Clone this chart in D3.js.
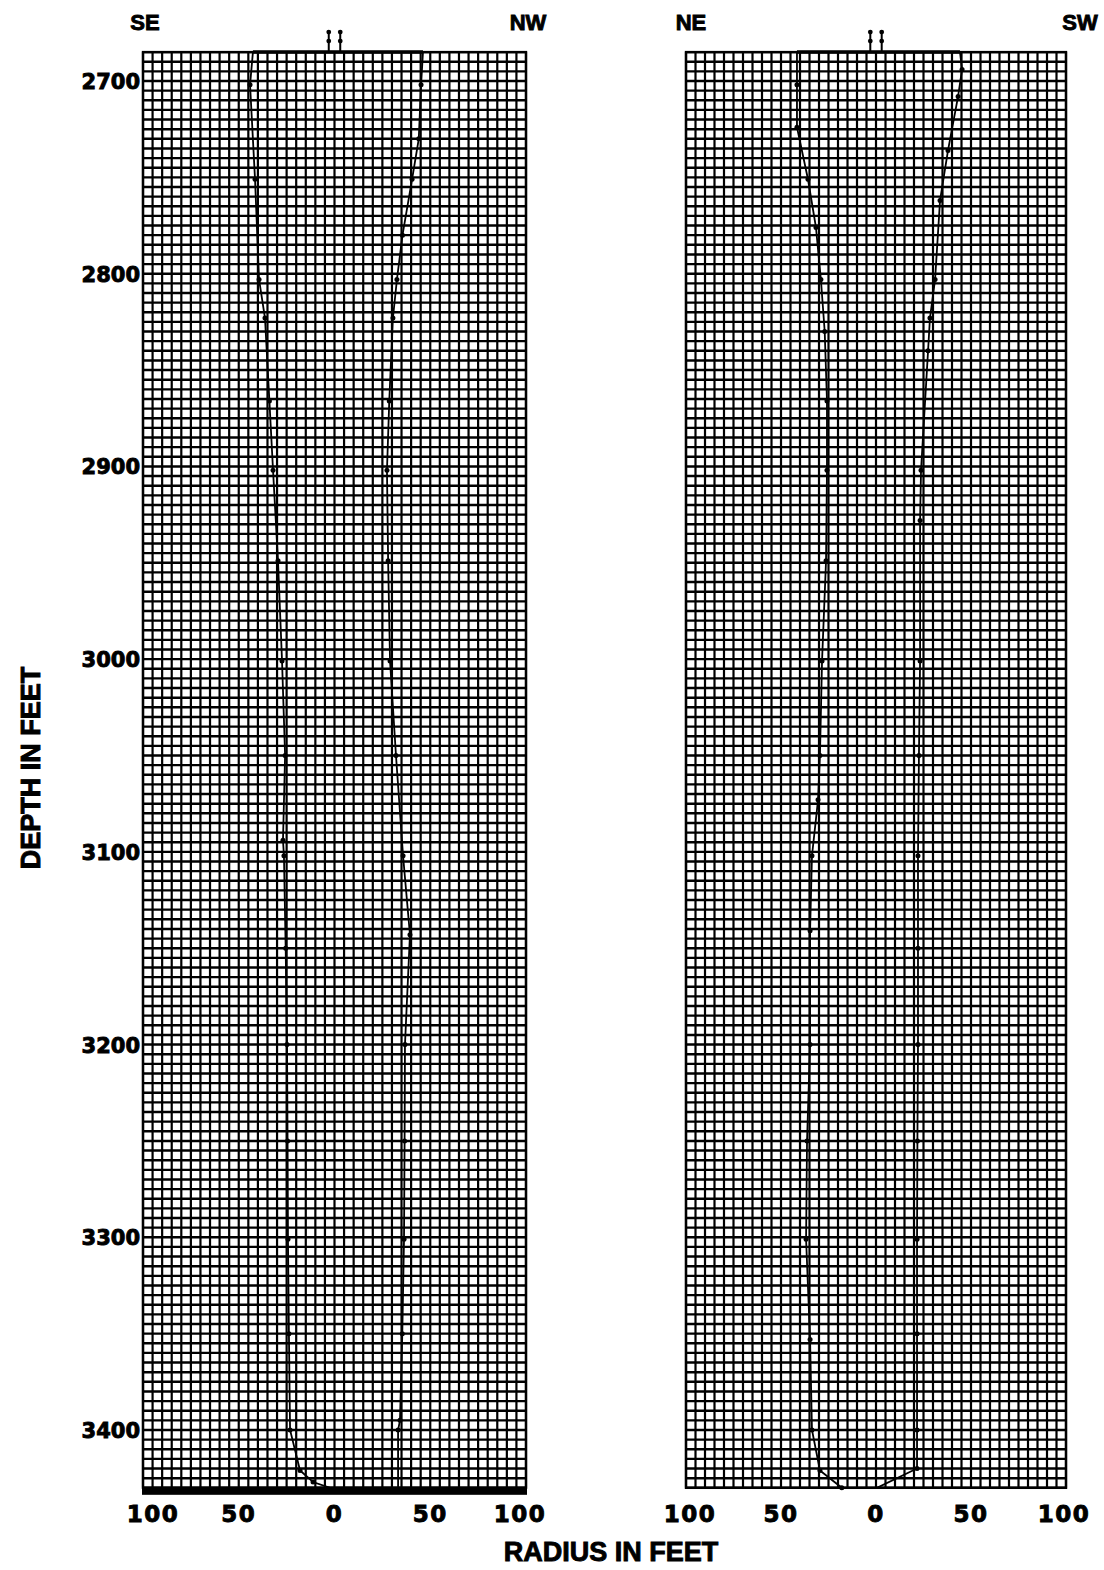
<!DOCTYPE html>
<html>
<head>
<meta charset="utf-8">
<script src="https://cdn.jsdelivr.net/npm/d3@7"></script>
<style>
	body { margin: 0; background: #fff; }
	svg { display: block; }
	.num { font-family: "DejaVu Sans", sans-serif; font-weight: bold; fill: #000; stroke: #000; stroke-width: 0.9; }
	.ttl { font-family: "Liberation Sans", Arial, sans-serif; font-weight: bold; fill: #000; stroke: #000; stroke-width: 0.9; }
</style>
</head>
<body>
<svg width="1104" height="1570"></svg>
<script>
(function() {
	"use strict"

	// depth tick labels and radius tick labels
	var depthTicks = [2700, 2800, 2900, 3000, 3100, 3200, 3300, 3400],
		radiusTicks = [-100, -50, 0, 50, 100],
		gridTop = 2685,
		gridBottom = 3430;

	// cavern profile, [depth, radius]
	var seProfile = [[2685, -42.6], [2702, -44.1], [2751, -41.5], [2803, -39.4], [2823, -36.3], [2866, -34], [2902, -32.1], [2949, -29.5],
		[3001, -27.4], [3050, -25.8], [3094, -26.9], [3102, -26.4], [3150, -25.5], [3200, -24.8], [3250, -24.5], [3301, -24.3], [3350, -23.8],
		[3400, -23.2], [3421, -18], [3427, -11.2], [3430, -2.3]];
	var nwProfile = [[2685, 46.2], [2702, 45.2], [2730, 44], [2751, 40.5], [2780, 35.5], [2803, 32.6], [2823, 30.5], [2866, 28.6], [2902, 27.4],
		[2949, 28], [3001, 29], [3050, 32.1], [3102, 35.8], [3143, 39.4], [3200, 36.8], [3250, 36.6], [3301, 36.3], [3350, 35.4],
		[3395, 34.2], [3400, 33.2], [3430, 33.2]];
	var neProfile = [[2685, -41.6], [2702, -41.6], [2724, -41.6], [2751, -35.8], [2776, -31.6], [2803, -29], [2830, -27], [2866, -25.8],
		[2902, -25.8], [2949, -26.3], [3001, -28.4], [3050, -29.5], [3073, -30.5], [3102, -33.7], [3141, -34.7], [3200, -34.7],
		[3250, -36.3], [3301, -36.8], [3353, -34.7], [3400, -33.7], [3421, -29.5], [3430, -18], [3430, 0.5]];
	var swProfile = [[2685, 44.2], [2694, 45.3], [2708, 43.2], [2736, 37.9], [2762, 33.7], [2803, 31.1], [2823, 28.4], [2840, 27.4],
		[2902, 23.7], [2928, 23.2], [3001, 23.2], [3050, 22.6], [3102, 22.1], [3150, 22.1], [3200, 22.1], [3250, 21.8], [3301, 21.6],
		[3350, 21.6], [3400, 21.6], [3420, 21.6], [3430, 0.5]];
	var wellMarks = [-3, 3];

	var panels = [
		{ west: seProfile, east: nwProfile, left: "SE", right: "NW", x0: 143, x1: 526, heavyBottom: true },
		{ west: neProfile, east: swProfile, left: "NE", right: "SW", x0: 686, x1: 1066, heavyBottom: false }
	];

	var svg = d3.select("svg"),
		y = d3.scaleLinear().domain([2700, 3400]).range([81, 1430]);

	svg.append("rect").attr("width", 1104).attr("height", 1570).attr("fill", "#fff");

	panels.forEach(function(p, pi) {
		var x = d3.scaleLinear().domain([-100, 100]).range([p.x0, p.x1]),
			g = svg.append("g");

		// graph paper
		g.selectAll("line.h")
			.data(d3.range(gridTop, gridBottom + 1, 5))
			.enter()
			.append("line")
				.attr("x1", x(-100)).attr("x2", x(100))
				.attr("y1", function(d) { return y(d); })
				.attr("y2", function(d) { return y(d); })
				.attr("stroke", "#000")
				.attr("stroke-width", 2.4);
		g.selectAll("line.v")
			.data(d3.range(-100, 101, 5))
			.enter()
			.append("line")
				.attr("y1", y(gridTop)).attr("y2", y(gridBottom))
				.attr("x1", function(d) { return x(d); })
				.attr("x2", function(d) { return x(d); })
				.attr("stroke", "#000")
				.attr("stroke-width", 2.2);
		g.append("rect")
			.attr("x", x(-100)).attr("y", y(gridTop))
			.attr("width", x(100) - x(-100)).attr("height", y(gridBottom) - y(gridTop))
			.attr("fill", "none").attr("stroke", "#000").attr("stroke-width", 2.4);
		if (p.heavyBottom) {
			g.append("rect")
				.attr("x", x(-100) - 1).attr("y", y(gridBottom) - 1)
				.attr("width", x(100) - x(-100) + 2).attr("height", 8)
				.attr("fill", "#000");
		}

		// profile outline
		var outline = p.west.concat(p.east.slice().reverse()),
			line = d3.line()
				.x(function(d) { return x(d[1]); })
				.y(function(d) { return y(d[0]); });
		g.append("path")
			.attr("d", line(outline) + "Z")
			.attr("fill", "none")
			.attr("stroke", "#000")
			.attr("stroke-width", 1.8);
		g.append("line")
			.attr("x1", x(p.west[0][1])).attr("x2", x(p.east[0][1]))
			.attr("y1", y(gridTop)).attr("y2", y(gridTop))
			.attr("stroke", "#000").attr("stroke-width", 3.5);
		g.selectAll("circle.pt")
			.data(p.west.slice(1, -1).concat(p.east.slice(1, -1)))
			.enter()
			.append("circle")
				.attr("cx", function(d) { return x(d[1]); })
				.attr("cy", function(d) { return y(d[0]); })
				.attr("r", 2.5)
				.attr("fill", "#000");

		// well marks above the top
		wellMarks.forEach(function(m) {
			g.append("line")
				.attr("x1", x(m)).attr("x2", x(m))
				.attr("y1", y(gridTop) - 20).attr("y2", y(gridTop))
				.attr("stroke", "#000").attr("stroke-width", 2);
			g.selectAll(null)
				.data([20, 11])
				.enter()
				.append("circle")
					.attr("cx", x(m)).attr("cy", function(d) { return y(gridTop) - d; })
					.attr("r", 2.4).attr("fill", "#000");
		});

		// radius labels
		var shift = pi === 0 ? { "-100": 10, "100": -6 } : { "-100": 4, "100": -2 };
		g.selectAll("text.rad")
			.data(radiusTicks)
			.enter()
			.append("text")
				.attr("class", "num")
				.attr("x", function(d) { return x(d) + (shift[d] || 0); })
				.attr("y", 1522)
				.attr("text-anchor", "middle")
				.attr("font-size", 23)
				.attr("letter-spacing", 1.5)
				.text(function(d) { return Math.abs(d); });

		// direction labels
		g.append("text").attr("class", "ttl").attr("font-size", 22)
			.attr("x", x(-100) + (pi === 0 ? 2 : 5)).attr("y", 30).attr("text-anchor", "middle").text(p.left);
		g.append("text").attr("class", "ttl").attr("font-size", 22)
			.attr("x", x(100) + (pi === 0 ? 2 : 14)).attr("y", 30).attr("text-anchor", "middle").text(p.right);
	});

	// depth labels
	svg.selectAll("text.depth")
		.data(depthTicks)
		.enter()
		.append("text")
			.attr("class", "num")
			.attr("x", 140)
			.attr("y", function(d) { return y(d) + 8; })
			.attr("text-anchor", "end")
			.attr("font-size", 21)
			.text(function(d) { return d; });

	svg.append("text")
		.attr("class", "ttl")
		.attr("font-size", 27)
		.attr("text-anchor", "middle")
		.attr("transform", "translate(40,768) rotate(-90)")
		.text("DEPTH IN FEET");

	svg.append("text")
		.attr("class", "ttl")
		.attr("font-size", 27)
		.attr("text-anchor", "middle")
		.attr("x", 611)
		.attr("y", 1561)
		.text("RADIUS IN FEET");
})();
</script>
</body>
</html>
